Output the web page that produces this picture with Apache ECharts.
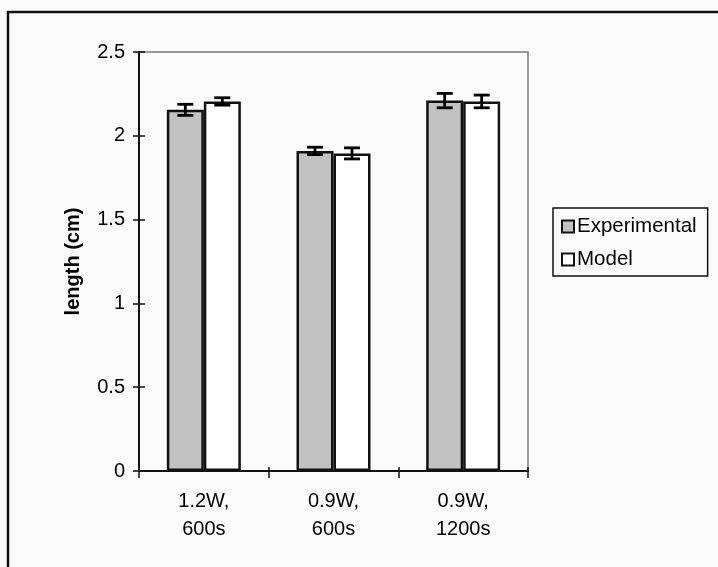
<!DOCTYPE html>
<html>
<head>
<meta charset="utf-8">
<script src="https://cdn.jsdelivr.net/npm/echarts@6/dist/echarts.min.js"></script>
<style>html,body{margin:0;padding:0;background:#fbfbfb;}#chart{width:718px;height:567px;}</style>
</head>
<body>
<div id="chart"></div>
<script>
var categories = ['1.2W,\n600s', '0.9W,\n600s', '0.9W,\n1200s'];
var experimental = [2.155, 1.91, 2.21];
var experimentalErr = [0.033, 0.022, 0.043];
var model = [2.205, 1.895, 2.205];
var modelErr = [0.022, 0.033, 0.038];
var yTicks = [0, 0.5, 1, 1.5, 2, 2.5];

var FONT = '"Liberation Sans", Arial, sans-serif';
var BAR_W = 37;

function errData(vals, errs) {
  return vals.map(function (v, i) { return [i, v, errs[i]]; });
}
function errRender(offset) {
  return function (params, api) {
    var idx = api.value(0), v = api.value(1), e = api.value(2);
    var top = api.coord([idx, v + e]);
    var bot = api.coord([idx, v - e]);
    var x = top[0] + offset;
    var cap = 8;
    var st = { stroke: '#000', lineWidth: 2.8 };
    return {
      type: 'group',
      children: [
        { type: 'line', shape: { x1: x, y1: top[1], x2: x, y2: bot[1] }, style: st },
        { type: 'line', shape: { x1: x - cap, y1: top[1], x2: x + cap, y2: top[1] }, style: st },
        { type: 'line', shape: { x1: x - cap, y1: bot[1], x2: x + cap, y2: bot[1] }, style: st }
      ]
    };
  };
}

var chart = echarts.init(document.getElementById('chart'));
chart.setOption({
  backgroundColor: '#fbfbfb',
  animation: false,
  textStyle: { fontFamily: FONT },
  graphic: [{
    type: 'rect', shape: { x: 8, y: 12, width: 800, height: 700 },
    style: { fill: 'none', stroke: '#111', lineWidth: 2.5 }, z: 100
  }],
  grid: { left: 139, top: 52, right: 190, bottom: 96, show: true, borderColor: '#7a7a7a', borderWidth: 1.5, backgroundColor: 'transparent' },
  legend: {
    orient: 'vertical', left: 553, top: 208,
    borderColor: '#111', borderWidth: 1.5,
    padding: [8, 11, 6, 8],
    icon: 'rect',
    itemWidth: 12, itemHeight: 12, itemGap: 12,
    textStyle: { fontSize: 20.5, color: '#000', fontFamily: FONT, padding: [0, 0, 0, -2] },
    itemStyle: { borderWidth: 2, borderColor: '#111' },
    data: ['Experimental', 'Model']
  },
  xAxis: [{
    type: 'category', data: categories,
    axisLine: { lineStyle: { color: '#111', width: 2 } },
    axisTick: { show: true, length: 7, lineStyle: { color: '#111', width: 1.5 } },
    axisLabel: { fontSize: 20, color: '#000', margin: 16, lineHeight: 28, fontFamily: FONT }
  }, {
    type: 'category', data: categories, position: 'bottom',
    axisLine: { show: false },
    axisTick: { show: true, inside: true, length: 4, lineStyle: { color: '#111', width: 1.5 } },
    axisLabel: { show: false }
  }],
  yAxis: [{
    type: 'value', min: 0, max: 2.5, interval: 0.5,
    name: 'length (cm)', nameLocation: 'middle', nameGap: 56,
    nameTextStyle: { fontSize: 20, fontWeight: 'bold', color: '#000', fontFamily: FONT },
    splitLine: { show: false },
    axisLine: { show: true, lineStyle: { color: '#111', width: 2 } },
    axisTick: { show: true, length: 6, lineStyle: { color: '#111', width: 1.5 } },
    axisLabel: {
      fontSize: 20, color: '#000', margin: 14, fontFamily: FONT,
      formatter: function (v) { return yTicks.indexOf(v) >= 0 ? String(v) : ''; }
    }
  }, {
    type: 'value', min: 0, max: 2.5, interval: 0.5, position: 'left',
    splitLine: { show: false },
    axisLine: { show: false },
    axisTick: { show: true, inside: true, length: 6, lineStyle: { color: '#111', width: 1.5 } },
    axisLabel: { show: false }
  }],
  series: [{
    name: 'Experimental', type: 'bar', data: experimental,
    barWidth: BAR_W, barGap: '0%',
    itemStyle: { color: '#c2c2c2', borderColor: '#111', borderWidth: 2.5 }
  }, {
    name: 'Model', type: 'bar', data: model,
    barWidth: BAR_W, barGap: '0%',
    itemStyle: { color: '#ffffff', borderColor: '#111', borderWidth: 2.5 }
  }, {
    type: 'custom', renderItem: errRender(-BAR_W / 2), data: errData(experimental, experimentalErr), z: 10
  }, {
    type: 'custom', renderItem: errRender(BAR_W / 2), data: errData(model, modelErr), z: 10
  }]
});
</script>
</body>
</html>
